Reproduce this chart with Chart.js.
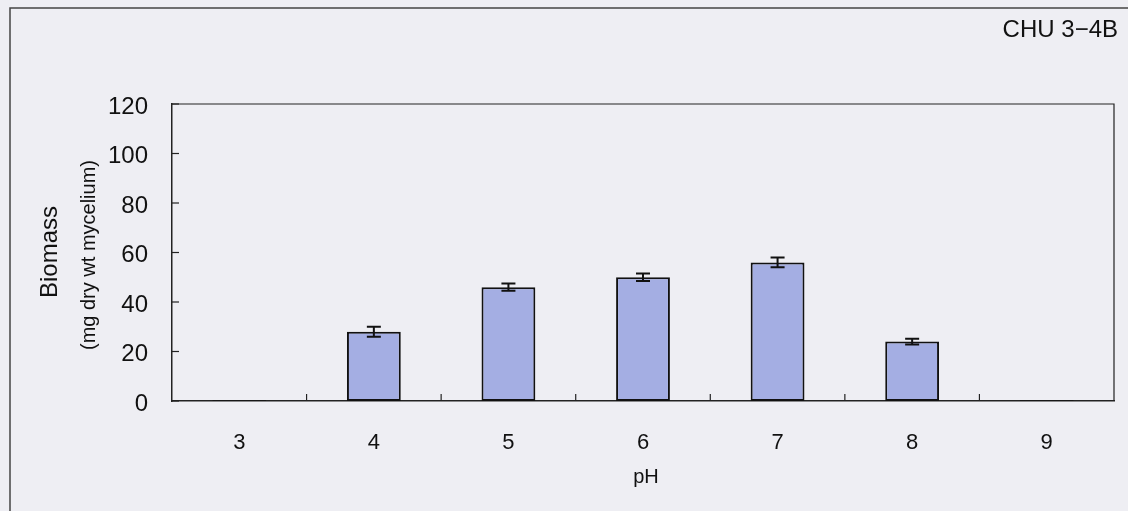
<!DOCTYPE html>
<html>
<head>
<meta charset="utf-8">
<script src="https://cdn.jsdelivr.net/npm/chart.js@4.4.1/dist/chart.umd.min.js"></script>
<style>
  html, body { margin: 0; padding: 0; background: #eeeef3; }
  #wrap { width: 1128px; height: 511px; }
</style>
</head>
<body>
<div id="wrap"><canvas id="myChart" width="1128" height="511"></canvas></div>
<script>
// données
const phLabels = ["3", "4", "5", "6", "7", "8", "9"];
const biomass = [0.3, 28, 46, 50, 56, 24, 0.3];
const errors = [0, 2, 1.5, 1.5, 2, 1.2, 0];
const yTicks = [0, 20, 40, 60, 80, 100, 120];

const FONT = "'Liberation Sans', Arial, sans-serif";

// cadre, titre, axes et barres d'erreur
const extras = {
  id: "extras",
  beforeDraw(chart) {
    const ctx = chart.ctx;
    ctx.save();
    ctx.fillStyle = "#eeeef3";
    ctx.fillRect(0, 0, chart.width, chart.height);
    ctx.strokeStyle = "#444";
    ctx.lineWidth = 1.5;
    ctx.beginPath();
    ctx.moveTo(10, chart.height);
    ctx.lineTo(10, 8);
    ctx.lineTo(chart.width, 8);
    ctx.stroke();
    ctx.restore();
  },
  afterDraw(chart) {
    const ctx = chart.ctx;
    const a = chart.chartArea;
    const x = chart.scales.x;
    const y = chart.scales.y;
    ctx.save();
    ctx.strokeStyle = "#222";
    ctx.lineWidth = 1.2;
    // bord haut et droit
    ctx.beginPath();
    ctx.moveTo(a.left, a.top);
    ctx.lineTo(a.right, a.top);
    ctx.lineTo(a.right, a.bottom);
    ctx.stroke();
    // graduations y vers l'intérieur
    yTicks.forEach(v => {
      const py = y.getPixelForValue(v);
      ctx.beginPath();
      ctx.moveTo(a.left, py);
      ctx.lineTo(a.left + 7, py);
      ctx.stroke();
    });
    // graduations x entre les catégories
    for (let i = 1; i < phLabels.length; i++) {
      const px = (x.getPixelForValue(i - 1) + x.getPixelForValue(i)) / 2;
      ctx.beginPath();
      ctx.moveTo(px, a.bottom);
      ctx.lineTo(px, a.bottom - 7);
      ctx.stroke();
    }
    // barres d'erreur
    ctx.strokeStyle = "#111";
    ctx.lineWidth = 2;
    const meta = chart.getDatasetMeta(0);
    meta.data.forEach((bar, i) => {
      if (!errors[i]) return;
      const top = y.getPixelForValue(biomass[i] + errors[i]);
      const bot = y.getPixelForValue(biomass[i] - errors[i]);
      ctx.beginPath();
      ctx.moveTo(bar.x, top);
      ctx.lineTo(bar.x, bot);
      ctx.moveTo(bar.x - 7, top);
      ctx.lineTo(bar.x + 7, top);
      ctx.moveTo(bar.x - 7, bot);
      ctx.lineTo(bar.x + 7, bot);
      ctx.stroke();
    });
    // textes
    ctx.fillStyle = "#111";
    ctx.font = "24px " + FONT;
    ctx.textAlign = "right";
    ctx.textBaseline = "alphabetic";
    ctx.fillText("CHU 3\u22124B", 1118, 37);
    ctx.textAlign = "center";
    ctx.font = "20px " + FONT;
    ctx.fillText("pH", 646, 483);
    ctx.translate(50, 252);
    ctx.rotate(-Math.PI / 2);
    ctx.textBaseline = "middle";
    ctx.font = "24px " + FONT;
    ctx.fillText("Biomass", 0, 0);
    ctx.font = "20px " + FONT;
    ctx.fillText("(mg dry wt mycelium)", -3, 39);
    ctx.restore();
  }
};

const data = {
  labels: phLabels,
  datasets: [
    {
      label: "Biomass",
      data: biomass,
      backgroundColor: "#a4aee3",
      borderColor: "#111",
      borderWidth: 2,
      borderSkipped: false,
      categoryPercentage: 1,
      barPercentage: 0.4,
    },
  ],
};

const config = {
  type: "bar",
  data: data,
  options: {
    responsive: false,
    animation: false,
    layout: { padding: { top: 104, right: 14, left: 0, bottom: 0 } },
    plugins: {
      legend: { display: false },
      title: { display: false },
      tooltip: { enabled: false },
    },
    scales: {
      x: {
        grid: { display: false, drawTicks: false },
        border: { display: true, color: "#222", width: 1.5 },
        ticks: { color: "#111", font: { family: FONT, size: 22 }, padding: 29 },
        afterFit: (s) => { s.height = 110; },
      },
      y: {
        min: 0,
        max: 120,
        grid: { display: false, drawTicks: false },
        border: { display: true, color: "#222", width: 1.5 },
        ticks: {
          stepSize: 20,
          color: "#111",
          font: { family: FONT, size: 24 },
          padding: 24,
          labelOffset: 3,
        },
        afterFit: (s) => { s.width = 172; },
      },
    },
  },
  plugins: [extras],
};

const context = document.getElementById("myChart").getContext("2d");
const chart = new Chart(context, config);
</script>
</body>
</html>
